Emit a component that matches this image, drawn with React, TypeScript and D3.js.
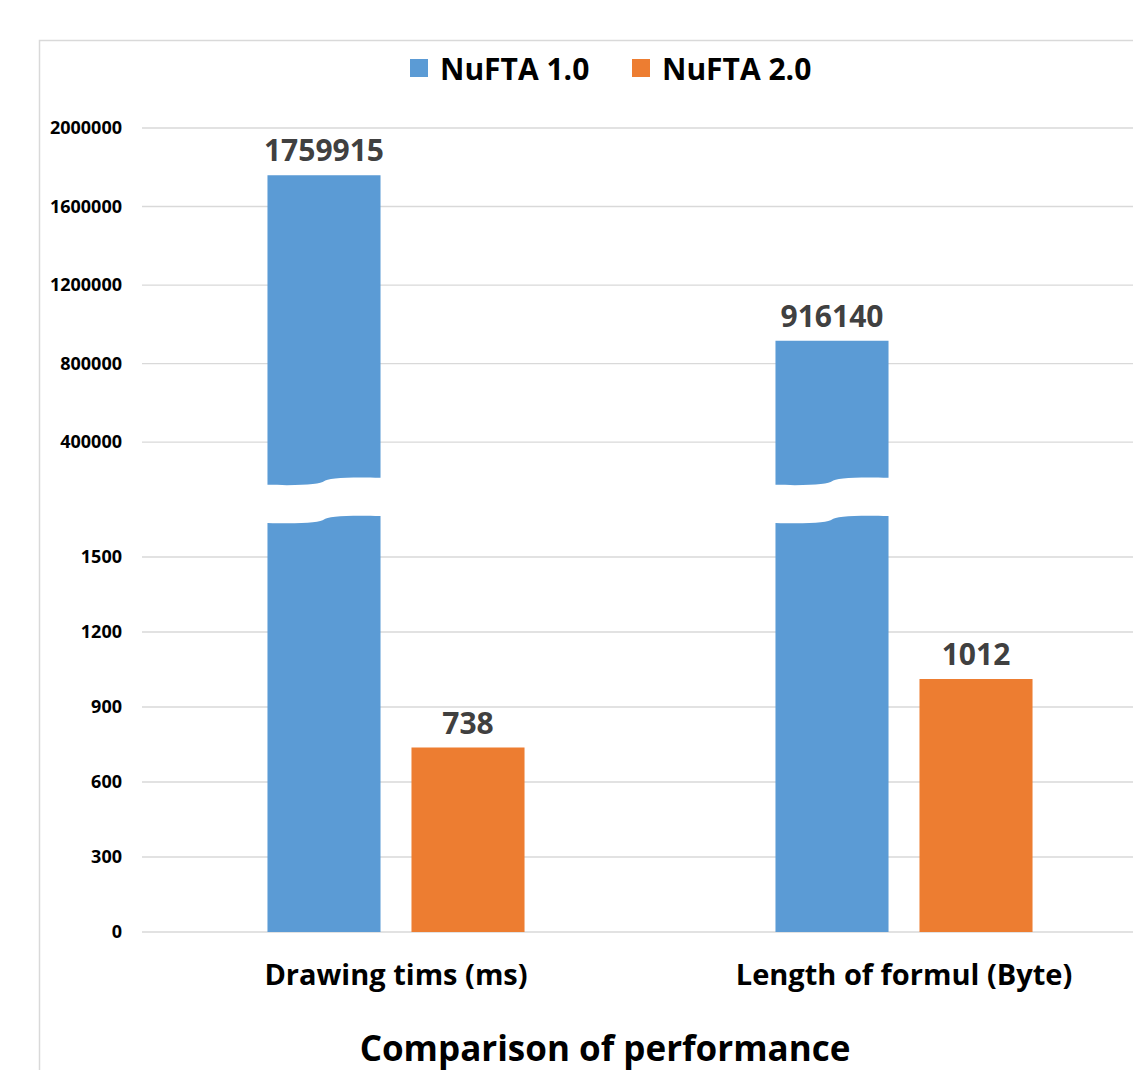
import { useRef, useEffect } from "react";
import * as d3 from "d3";

const categories = ["Drawing tims (ms)", "Length of formul (Byte)"];
const seriesNames = ["NuFTA 1.0", "NuFTA 2.0"];
const nufta1 = [1759915, 916140];
const nufta2 = [738, 1012];
const upperTicks = [400000, 800000, 1200000, 1600000, 2000000];
const lowerTicks = [0, 300, 600, 900, 1200, 1500];
// where the axis is cut on each side of the break
const breakUpper = 200000;
const breakLower = 1650;

const COLORS = ["#5b9bd5", "#ed7d31"];
const FONT = "'Open Sans', 'Noto Sans', sans-serif";

export default function App() {
  const ref = useRef<SVGSVGElement>(null);

  useEffect(() => {
    if (!ref.current) return;
    const W = 1133;
    const H = 1070;
    const svg = d3.select(ref.current);
    svg.selectAll("*").remove();
    svg.attr("width", W).attr("height", H);

    svg.append("rect").attr("width", W).attr("height", H).attr("fill", "#fff");

    // chart frame
    svg.append("path").attr("d", `M39.5,${H} L39.5,40.5 L${W},40.5`)
      .attr("fill", "none").attr("stroke", "#d9d9d9").attr("stroke-width", 1.5);

    const x0 = d3.scaleBand<string>().domain(categories).range([142, 1158]).paddingInner(0.494).paddingOuter(0.247);
    const x1 = d3.scaleBand<string>().domain(seriesNames).range([0, x0.bandwidth()]).paddingInner(0.215);

    const yUp = d3.scaleLinear().domain([0, 2000000]).range([520.6, 128]);
    const yLo = d3.scaleLinear().domain([0, 1500]).range([932, 557]);

    // Grid + tick labels
    const grid = (ticks: number[], y: d3.ScaleLinear<number, number>) => {
      ticks.forEach((t) => {
        svg.append("line").attr("x1", 142).attr("x2", W).attr("y1", y(t)).attr("y2", y(t))
          .attr("stroke", "#d9d9d9").attr("stroke-width", 1.3);
        svg.append("text").attr("x", 122).attr("y", y(t)).attr("dy", "0.35em")
          .attr("text-anchor", "end").attr("font-family", FONT).attr("font-weight", 700)
          .attr("font-size", 18).attr("fill", "#000").text(t);
      });
    };
    grid(upperTicks, yUp);
    grid(lowerTicks, yLo);

    const wave = (xa: number, xb: number, y: number, dir: 1 | -1) => {
      const w = xb - xa;
      const xm = xa + w / 2;
      const pts = [
        [xa, y + 3.5], [xa + w * 0.3, y + 4.5], [xm - 3, y + 3], [xm, y],
        [xm + 3, y - 3], [xb - w * 0.3, y - 4.5], [xb, y - 3.5],
      ];
      if (dir === -1) pts.reverse();
      const [p0, ...rest] = pts;
      return `${dir === 1 ? "M" : "L"}${p0[0]},${p0[1]} C${rest[0]} ${rest[1]} ${rest[2]} C${rest[3]} ${rest[4]} ${rest[5]}`;
    };

    const data = [nufta1, nufta2];
    const labelStyle = (s: d3.Selection<SVGTextElement, unknown, null, undefined>) =>
      s.attr("text-anchor", "middle").attr("font-family", FONT).attr("font-weight", 700)
        .attr("font-size", 30).attr("fill", "#404040");

    categories.forEach((c, ci) => {
      seriesNames.forEach((s, si) => {
        const v = data[si][ci];
        const xa = (x0(c) ?? 0) + (x1(s) ?? 0);
        const xb = xa + x1.bandwidth();
        const xc = (xa + xb) / 2;
        let top: number;
        if (v > 1500) {
          // upper piece
          const yb = yUp(breakUpper);
          top = yUp(v);
          svg.append("path")
            .attr("d", `M${xa},${top} L${xb},${top} L${xb},${yb - 3.5} ${wave(xa, xb, yb, -1)} Z`)
            .attr("fill", COLORS[si]);
          // lower piece
          const yl = yLo(breakLower);
          svg.append("path")
            .attr("d", `${wave(xa, xb, yl, 1)} L${xb},${yLo(0)} L${xa},${yLo(0)} Z`)
            .attr("fill", COLORS[si]);
        } else {
          top = yLo(v);
          svg.append("rect").attr("x", xa).attr("y", top).attr("width", xb - xa)
            .attr("height", yLo(0) - top).attr("fill", COLORS[si]);
        }
        svg.append("text").attr("x", xc).attr("y", top - 14).call(labelStyle).text(v);
      });

      svg.append("text").attr("x", (x0(c) ?? 0) + x0.bandwidth() / 2).attr("y", 985)
        .attr("text-anchor", "middle").attr("font-family", FONT).attr("font-weight", 700)
        .attr("font-size", 29).attr("fill", "#000").text(c);
    });

    // legend
    const legendX = [410, 632];
    seriesNames.forEach((s, i) => {
      svg.append("rect").attr("x", legendX[i]).attr("y", 59).attr("width", 18).attr("height", 18).attr("fill", COLORS[i]);
      svg.append("text").attr("x", legendX[i] + 30).attr("y", 80).attr("font-family", FONT)
        .attr("font-weight", 700).attr("font-size", 30).attr("fill", "#000").text(s);
    });

    // title
    svg.append("text").attr("x", 605).attr("y", 1061).attr("text-anchor", "middle")
      .attr("font-family", FONT).attr("font-weight", 700).attr("font-size", 35).attr("fill", "#000")
      .text("Comparison of performance");
  }, []);

  return <svg ref={ref} style={{ position: "absolute", left: 0, top: 0, display: "block" }} />;
}
